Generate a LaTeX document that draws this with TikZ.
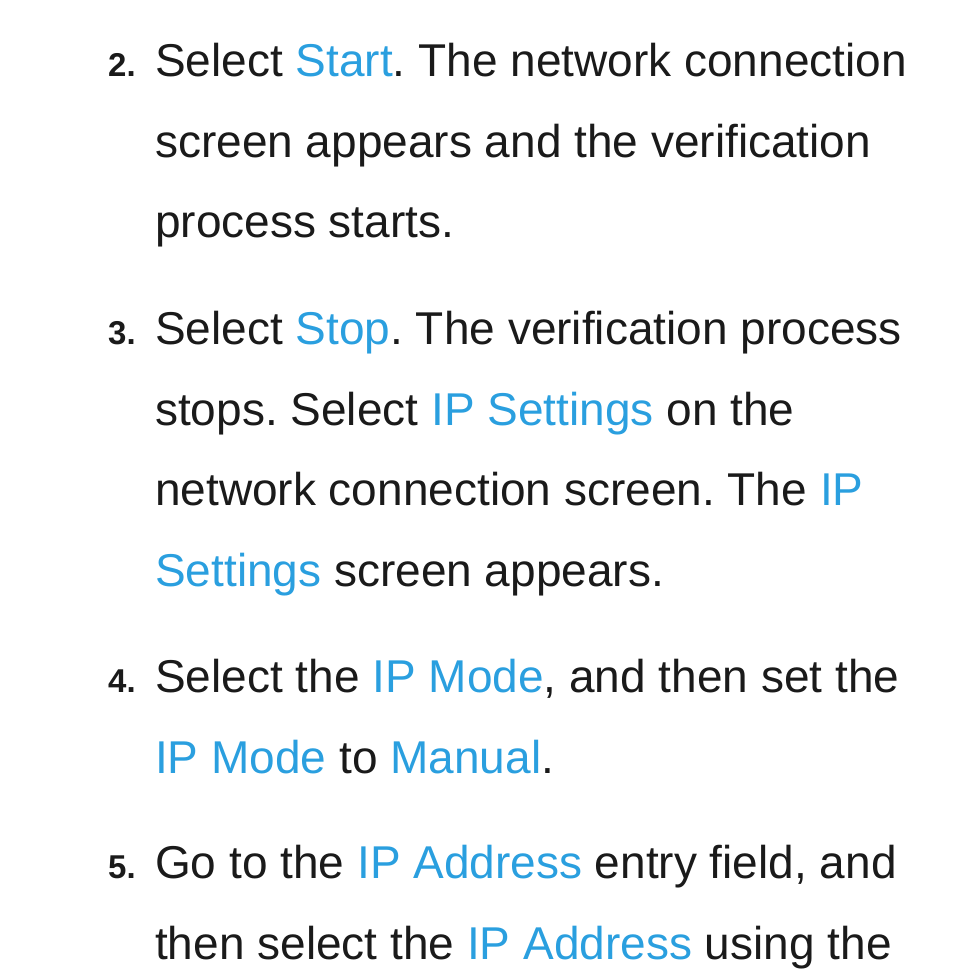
\documentclass[tikz,border=0pt]{standalone}
\usepackage{fontspec}
\setmainfont{Liberation Sans}
\definecolor{hl}{HTML}{2A9FDF}
\definecolor{tx}{HTML}{1A1A1A}
\newcommand{\hi}[1]{\textcolor{hl}{#1}}
\frenchspacing
\begin{document}
\begin{tikzpicture}[x=1pt,y=-1pt,
  ln/.style={anchor=base west,inner sep=0pt,font=\fontsize{46}{46}\selectfont,text=tx},
  num/.style={anchor=base west,inner sep=0pt,font=\bfseries\fontsize{33}{33}\selectfont,text=tx}]
\useasboundingbox (0,0) rectangle (954,977);
\node[num] (n2) at (108,76) {2.};
\node[ln] (a1) at (155,76) {Select \hi{Start}. The network connection};
\node[ln] (a2) at (155,157) {screen appears and the verification};
\node[ln] (a3) at (155,237) {process starts.};
\node[num] (n3) at (108,344) {3.};
\node[ln] (b1) at (155,344) {Select \hi{Stop}. The verification process};
\node[ln] (b2) at (155,425) {stops. Select \hi{IP Settings} on the};
\node[ln] (b3) at (155,505) {network connection screen. The \hi{IP}};
\node[ln] (b4) at (155,586) {\hi{Settings} screen appears.};
\node[num] (n4) at (108,692) {4.};
\node[ln] (c1) at (155,692) {Select the \hi{IP Mode}, and then set the};
\node[ln] (c2) at (155,773) {\hi{IP Mode} to \hi{Manual}.};
\node[num] (n5) at (108,878) {5.};
\node[ln] (d1) at (155,878) {Go to the \hi{IP Address} entry field, and};
\node[ln] (d2) at (155,959) {then select the \hi{IP Address} using the};
\end{tikzpicture}
\end{document}
